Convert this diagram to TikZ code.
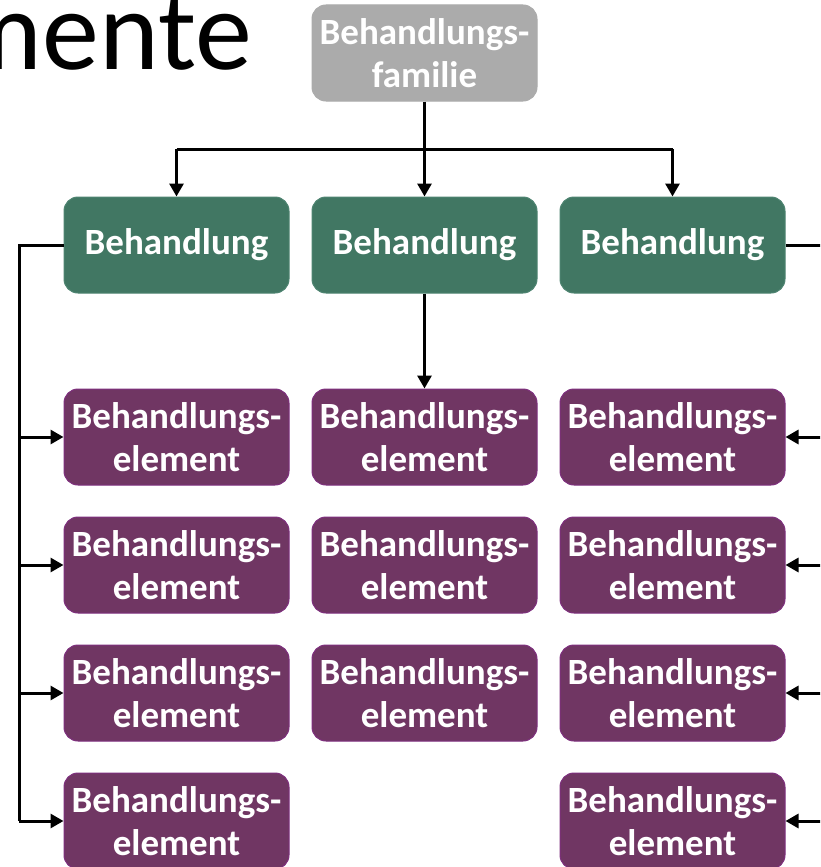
\documentclass[tikz,border=0pt]{standalone}
\usepackage{fontspec}
\setmainfont{Carlito}
\usetikzlibrary{arrows.meta}
\definecolor{famgray}{HTML}{ABABAB}
\definecolor{behgreen}{HTML}{417763}
\definecolor{behgreenb}{HTML}{4E8471}
\definecolor{elpurple}{HTML}{703663}
\definecolor{elpurpleb}{HTML}{7E2F7E}
\tikzset{
  box/.style={rounded corners=14pt, minimum width=225pt, minimum height=96pt, inner sep=0pt,
    align=center, text=white, font=\fontsize{37}{43}\selectfont\bfseries, line width=1pt},
  fambox/.style={box, fill=famgray, draw=famgray},
  behbox/.style={box, fill=behgreen, draw=behgreenb},
  elbox/.style={box, fill=elpurple, draw=elpurpleb},
  conn/.style={line width=3pt, black},
  arr/.style={conn, -{Triangle[length=13pt,width=14pt]}}
}
\begin{document}
\begin{tikzpicture}[x=1pt,y=-1pt]
\useasboundingbox (0,0) rectangle (820,867);
\clip (0,0) rectangle (820,867);
\fill[white] (0,0) rectangle (820,867);
\node[anchor=base east, inner sep=0pt, font=\fontsize{114}{120}\selectfont] (title) at (252,70) {mente};
% top
\node[fambox] (fam) at (424.5,53) {Behandlungs-\\familie};
% green row
\node[behbox] (b1) at (176.5,245) {Behandlung};
\node[behbox] (b2) at (424.5,245) {Behandlung};
\node[behbox] (b3) at (672.5,245) {Behandlung};
% left column
\node[elbox] (l1) at (176.5,437) {Behandlungs-\\element};
\node[elbox] (l2) at (176.5,565) {Behandlungs-\\element};
\node[elbox] (l3) at (176.5,693) {Behandlungs-\\element};
\node[elbox] (l4) at (176.5,821) {Behandlungs-\\element};
% middle column
\node[elbox] (m1) at (424.5,437) {Behandlungs-\\element};
\node[elbox] (m2) at (424.5,565) {Behandlungs-\\element};
\node[elbox] (m3) at (424.5,693) {Behandlungs-\\element};
% right column
\node[elbox] (r1) at (672.5,437) {Behandlungs-\\element};
\node[elbox] (r2) at (672.5,565) {Behandlungs-\\element};
\node[elbox] (r3) at (672.5,693) {Behandlungs-\\element};
\node[elbox] (r4) at (672.5,821) {Behandlungs-\\element};
% family to treatments
\coordinate (hub) at (424.5,149);
\draw[conn] (fam.south) -- (hub);
\draw[conn] (b1.north |- hub) -- (b3.north |- hub);
\draw[arr] (hub) -- (b2.north);
\draw[arr] (b1.north |- hub) -- (b1.north);
\draw[arr] (b3.north |- hub) -- (b3.north);
% left branch
\coordinate (lx) at (19,245);
\draw[conn] (b1.west) -- (lx) -- (lx |- l4.west);
\foreach \n in {l1,l2,l3,l4} \draw[arr] (lx |- \n.west) -- (\n.west);
% middle branch
\draw[arr] (b2.south) -- (m1.north);
% right branch
\coordinate (rx) at (827,245);
\draw[conn] (b3.east) -- (rx) -- (rx |- r4.east);
\foreach \n in {r1,r2,r3,r4} \draw[arr] (rx |- \n.east) -- (\n.east);
\end{tikzpicture}
\end{document}
